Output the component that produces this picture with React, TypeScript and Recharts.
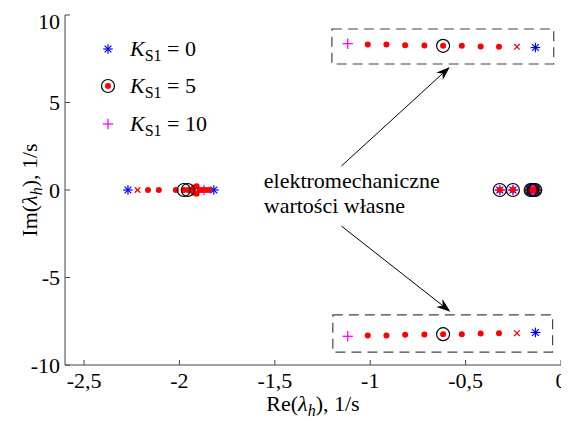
import React from 'react';
import {
  ScatterChart,
  Scatter,
  XAxis,
  YAxis,
  Legend,
  Label,
  ReferenceArea,
  ReferenceLine,
  ReferenceDot,
} from 'recharts';

const FONT = '"Liberation Serif", "Times New Roman", Times, serif';
const FS = 22;

// axis ticks
const X_TICKS = [-2.5, -2, -1.5, -1, -0.5, 0];
const Y_TICKS = [-10, -5, 0, 5, 10];

// K_S1 = 0 -> blue stars
const k0Points = [
  { re: -2.27, im: 0 },
  { re: -1.82, im: 0 },
  { re: -0.321, im: 0 },
  { re: -0.252, im: 0 },
  { re: -0.159, im: 0 },
  { re: -0.151, im: 0 },
  { re: -0.143, im: 0 },
  { re: -0.135, im: 0 },
  { re: -0.134, im: 8.14 },
  { re: -0.134, im: -8.14 },
];

// red crosses next to the K_S1 = 0 points
const crossPoints = [
  { re: -2.22, im: 0 },
  { re: -0.231, im: 8.18 },
  { re: -0.231, im: -8.18 },
];

// K_S1 = 10 -> magenta plus
const k10Points = [
  { re: -1.872, im: 0 },
  { re: -0.321, im: 0 },
  { re: -0.252, im: 0 },
  { re: -0.159, im: 0 },
  { re: -0.151, im: 0 },
  { re: -0.143, im: 0 },
  { re: -0.135, im: 0 },
  { re: -1.118, im: 8.36 },
  { re: -1.118, im: -8.36 },
];

// intermediate gains -> red dots
const dotPoints = [
  { re: -2.165, im: 0 },
  { re: -2.108, im: 0 },
  { re: -2.019, im: 0 },
  { re: -1.977, im: 0 },
  { re: -1.956, im: 0 },
  { re: -1.94, im: 0 },
  { re: -1.925, im: 0.15 },
  { re: -1.925, im: -0.15 },
  { re: -1.91, im: 0.22 },
  { re: -1.91, im: -0.22 },
  { re: -1.895, im: 0 },
  { re: -1.88, im: 0 },
  { re: -1.862, im: 0 },
  { re: -1.845, im: 0 },
  { re: -0.321, im: 0 },
  { re: -0.252, im: 0 },
  { re: -0.159, im: 0 },
  { re: -0.151, im: 0 },
  { re: -0.143, im: 0 },
  { re: -0.135, im: 0 },
  { re: -1.013, im: 8.31 },
  { re: -0.915, im: 8.31 },
  { re: -0.817, im: 8.27 },
  { re: -0.716, im: 8.26 },
  { re: -0.618, im: 8.24 },
  { re: -0.52, im: 8.24 },
  { re: -0.421, im: 8.2 },
  { re: -0.325, im: 8.19 },
  { re: -1.013, im: -8.31 },
  { re: -0.915, im: -8.31 },
  { re: -0.817, im: -8.27 },
  { re: -0.716, im: -8.26 },
  { re: -0.618, im: -8.24 },
  { re: -0.52, im: -8.24 },
  { re: -0.421, im: -8.2 },
  { re: -0.325, im: -8.19 },
];

// K_S1 = 5 -> black circles
const k5Points = [
  { re: -1.977, im: 0 },
  { re: -1.956, im: 0 },
  { re: -0.321, im: 0 },
  { re: -0.252, im: 0 },
  { re: -0.159, im: 0 },
  { re: -0.151, im: 0 },
  { re: -0.143, im: 0 },
  { re: -0.135, im: 0 },
  { re: -0.618, im: 8.24 },
  { re: -0.618, im: -8.24 },
];

const LEGEND_VALUES = ['0', '5', '10'];

// annotation
const NOTE_LINES = ['elektromechaniczne', 'wartości własne'];
const NOTE_AT = { re: -1.558, im: 0.11 };
const ARROWS = [
  [{ x: -1.151, y: 1.37 }, { x: -0.583, y: 7.03 }],
  [{ x: -1.151, y: -2.06 }, { x: -0.58, y: -6.95 }],
];
const BOXES = [
  { x1: -1.201, x2: -0.038, y1: 7.2, y2: 9.2 },
  { x1: -1.196, x2: -0.044, y1: -9.26, y2: -7.14 },
];

const Star = ({ cx, cy }: any) => {
  const s = 4.8;
  const d = 3.4;
  return (
    <g stroke="#0000ff" strokeWidth={1.2}>
      <line x1={cx - s} y1={cy} x2={cx + s} y2={cy} />
      <line x1={cx} y1={cy - s} x2={cx} y2={cy + s} />
      <line x1={cx - d} y1={cy - d} x2={cx + d} y2={cy + d} />
      <line x1={cx - d} y1={cy + d} x2={cx + d} y2={cy - d} />
    </g>
  );
};

const Cross = ({ cx, cy }: any) => {
  const d = 2.8;
  return (
    <g stroke="#ff0000" strokeWidth={1.3}>
      <line x1={cx - d} y1={cy - d} x2={cx + d} y2={cy + d} />
      <line x1={cx - d} y1={cy + d} x2={cx + d} y2={cy - d} />
    </g>
  );
};

const Plus = ({ cx, cy }: any) => {
  const s = 5.2;
  return (
    <g stroke="#ff00ff" strokeWidth={1.3}>
      <line x1={cx - s} y1={cy} x2={cx + s} y2={cy} />
      <line x1={cx} y1={cy - s} x2={cx} y2={cy + s} />
    </g>
  );
};

const Dot = ({ cx, cy }: any) => <circle cx={cx} cy={cy} r={3} fill="#ff0000" />;

const Ring = ({ cx, cy }: any) => (
  <circle cx={cx} cy={cy} r={6.5} fill="none" stroke="#000" strokeWidth={1.2} />
);

const Arrow = (p: any) => {
  const { x1, y1, x2, y2 } = p;
  const dx = x2 - x1;
  const dy = y2 - y1;
  const len = Math.sqrt(dx * dx + dy * dy);
  const ux = dx / len;
  const uy = dy / len;
  const L = 14;
  const W = 5;
  const bx = x2 - ux * L;
  const by = y2 - uy * L;
  const nx = x2 - ux * L * 0.7;
  const ny = y2 - uy * L * 0.7;
  const pts = [
    [x2, y2],
    [bx - uy * W, by + ux * W],
    [nx, ny],
    [bx + uy * W, by - ux * W],
  ]
    .map((q) => q.join(','))
    .join(' ');
  return (
    <g>
      <line x1={x1} y1={y1} x2={nx} y2={ny} stroke="#000" strokeWidth={1} />
      <polygon points={pts} fill="#000" />
    </g>
  );
};

const Note = ({ cx, cy }: any) => (
  <text x={cx} y={cy} fontFamily={FONT} fontSize={FS} fill="#000">
    {NOTE_LINES.map((t, i) => (
      <tspan key={t} x={cx} dy={i === 0 ? 0 : 25}>
        {t}
      </tspan>
    ))}
  </text>
);

const legendMarker = (i: number) => {
  if (i === 0) return <Star cx={12} cy={12} />;
  if (i === 1)
    return (
      <g>
        <Dot cx={12} cy={12} />
        <Ring cx={12} cy={12} />
      </g>
    );
  return <Plus cx={12} cy={12} />;
};

const renderLegend = () => (
  <div style={{ fontFamily: FONT, fontSize: FS, color: '#000' }}>
    {LEGEND_VALUES.map((v, i) => (
      <div key={v} style={{ display: 'flex', alignItems: 'center', height: 37.5 }}>
        <svg width={24} height={24} style={{ overflow: 'visible' }}>
          {legendMarker(i)}
        </svg>
        <span style={{ marginLeft: 10, whiteSpace: 'nowrap' }}>
          <i>K</i>
          <span style={{ fontSize: 16, position: 'relative', top: 5 }}>S1</span>
          {' = ' + v}
        </span>
      </div>
    ))}
  </div>
);

const XTitle = ({ viewBox }: any) => {
  const cx = viewBox.x + viewBox.width / 2;
  const y = viewBox.y + 46;
  return (
    <text x={cx} y={y} textAnchor="middle" fontFamily={FONT} fontSize={FS} fill="#000">
      <tspan>Re(</tspan>
      <tspan fontStyle="italic">λ</tspan>
      <tspan fontStyle="italic" fontSize={16} dy={5}>h</tspan>
      <tspan dy={-5}>), 1/s</tspan>
    </text>
  );
};

const YTitle = ({ viewBox }: any) => {
  const x = viewBox.x + 22;
  const cy = viewBox.y + viewBox.height / 2;
  return (
    <text
      x={x}
      y={cy}
      textAnchor="middle"
      transform={`rotate(-90 ${x} ${cy})`}
      fontFamily={FONT}
      fontSize={FS}
      fill="#000"
    >
      <tspan>Im(</tspan>
      <tspan fontStyle="italic">λ</tspan>
      <tspan fontStyle="italic" fontSize={16} dy={5}>h</tspan>
      <tspan dy={-5}>), 1/s</tspan>
    </text>
  );
};

const tickStyle = { fill: '#000', fontSize: FS, fontFamily: FONT };

export default function App() {
  return (
    <div style={{ width: 561, height: 413, position: 'relative' }}>
      <ScatterChart width={561} height={413} margin={{ top: 7, right: 8, bottom: 0, left: 7 }}>
        <XAxis
          type="number"
          dataKey="re"
          domain={[-2.6, 0]}
          ticks={X_TICKS}
          tickFormatter={(v) => String(v).replace('.', ',')}
          height={56}
          tickSize={-5}
          tickMargin={12}
          stroke="#444"
          tick={tickStyle}
        >
          <Label content={XTitle} />
        </XAxis>
        <YAxis
          type="number"
          dataKey="im"
          domain={[-10, 10]}
          ticks={Y_TICKS}
          width={50}
          tickSize={-5}
          tickMargin={10}
          stroke="#444"
          tick={tickStyle}
        >
          <Label content={YTitle} />
        </YAxis>

        {BOXES.map((b, i) => (
          <ReferenceArea
            key={i}
            x1={b.x1}
            x2={b.x2}
            y1={b.y1}
            y2={b.y2}
            fill="none"
            fillOpacity={0}
            stroke="#444"
            strokeWidth={1.2}
            strokeDasharray="10 6"
          />
        ))}
        {ARROWS.map((seg, i) => (
          <ReferenceLine key={i} segment={seg} shape={Arrow} />
        ))}
        <ReferenceDot x={NOTE_AT.re} y={NOTE_AT.im} shape={Note} />

        <Scatter data={k0Points} shape={Star} isAnimationActive={false} />
        <Scatter data={crossPoints} shape={Cross} isAnimationActive={false} />
        <Scatter data={k10Points} shape={Plus} isAnimationActive={false} />
        <Scatter data={dotPoints} shape={Dot} isAnimationActive={false} />
        <Scatter data={k5Points} shape={Ring} isAnimationActive={false} />

        <Legend
          content={renderLegend}
          layout="vertical"
          align="center"
          verticalAlign="middle"
          wrapperStyle={{ left: 88, top: 22, width: 170 }}
        />
      </ScatterChart>
    </div>
  );
}
